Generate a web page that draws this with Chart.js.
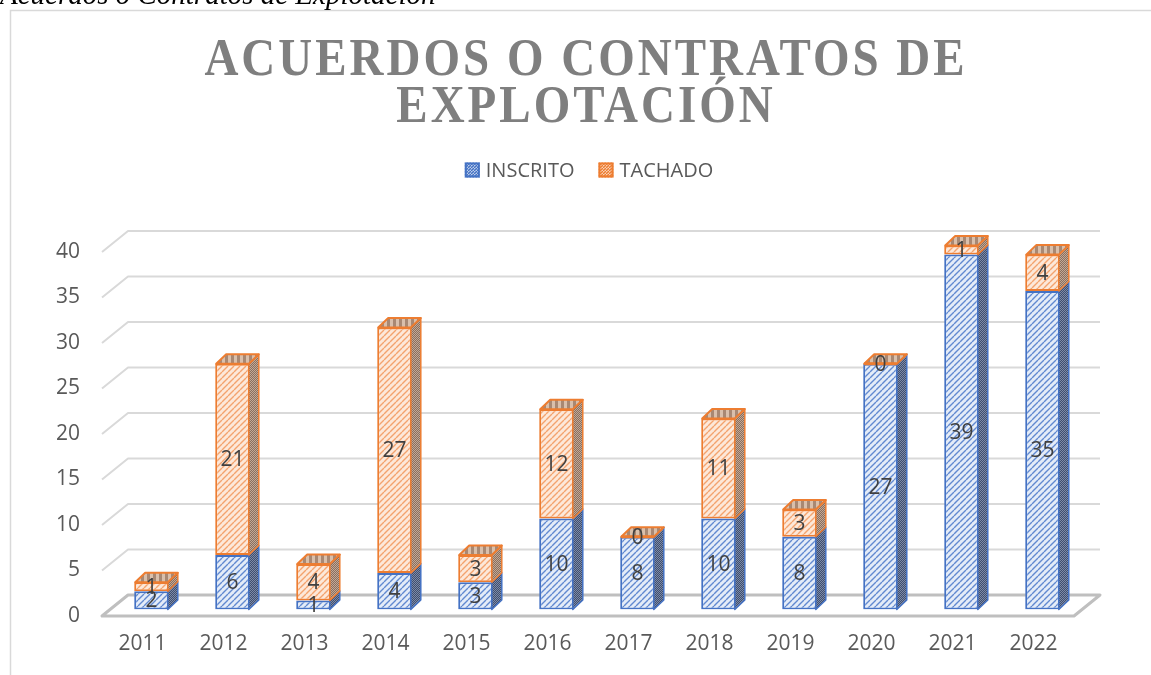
<!DOCTYPE html>
<html><head><meta charset="utf-8">
<script src="https://cdn.jsdelivr.net/npm/chart.js@4.4.1/dist/chart.umd.min.js"></script>
<style>
html,body{margin:0;padding:0;background:#fff;overflow:hidden;width:1151px;height:675px;}
#c{position:absolute;left:0;top:0;}
#cap{position:absolute;left:0;top:-21px;font:italic 29px "Liberation Serif",serif;color:#000;white-space:nowrap;line-height:30px;}
</style></head><body>
<canvas id="c" width="1180" height="675"></canvas>
<div id="cap">Acuerdos o Contratos de Explotación</div>
<script>
// ---- data ----
const categories = ['2011','2012','2013','2014','2015','2016','2017','2018','2019','2020','2021','2022'];
const inscrito = [2, 6, 1, 4, 3, 10, 8, 10, 8, 27, 39, 35];
const tachado  = [1, 21, 4, 27, 3, 12, 0, 11, 3, 0, 1, 4];
const seriesNames = ['INSCRITO', 'TACHADO'];
const yTicks = [0, 5, 10, 15, 20, 25, 30, 35, 40];
const titleLines = ['ACUERDOS O CONTRATOS DE', 'EXPLOTACIÓN'];

const cv = document.getElementById('c');
const ctx = cv.getContext('2d');

function stripePat(bg, fg, size, lw){
  const c=document.createElement('canvas'); c.width=c.height=size; const g=c.getContext('2d');
  g.fillStyle=bg; g.fillRect(0,0,size,size);
  g.strokeStyle=fg; g.lineWidth=lw; g.beginPath();
  for(let k=-1;k<=1;k++){ g.moveTo(k*size, size); g.lineTo(k*size+size, 0); }
  g.stroke();
  return ctx.createPattern(c,'repeat');
}
function checkPat(a,b){
  const c=document.createElement('canvas'); c.width=c.height=2; const g=c.getContext('2d');
  g.fillStyle=a; g.fillRect(0,0,2,2); g.fillStyle=b; g.fillRect(0,0,1,1); g.fillRect(1,1,1,1);
  return ctx.createPattern(c,'repeat');
}
function vstripePat(bg, fg, period, w){
  const c=document.createElement('canvas'); c.width=period; c.height=1; const g=c.getContext('2d');
  g.fillStyle=bg; g.fillRect(0,0,period,1); g.fillStyle=fg; g.fillRect(0,0,w,1);
  return ctx.createPattern(c,'repeat');
}

const styles = [
  {border:'#4472c4', front:stripePat('#e4ecf8','#6189d0',6,1.4), side:checkPat('#3f4f70','#7d8aa6'), top:vstripePat('#7f93bb','#b8c6e2',6,3), legend:stripePat('#ffffff','#4472c4',3,1.6)},
  {border:'#ed7d31', front:stripePat('#fde8d9','#f3a36e',6,1.4), side:checkPat('#8a6f5e','#c2a896'), top:vstripePat('#a88873','#d9bfab',6,3), legend:stripePat('#ffffff','#ed7d31',3,1.6)}
];

const FRONT={dx:-9,dy:6.5}, BACK={dx:17,dy:-14.5}, DEPTH={dx:10,dy:-9.5};
const TXT = '"Open Sans", "Noto Sans", sans-serif';

const threeD = {
  id:'threeD',
  beforeDraw(chart){
    const c=chart.ctx; c.save();
    c.strokeStyle='#d9d9d9'; c.lineWidth=1.5;
    c.beginPath(); c.moveTo(10.5,700); c.lineTo(10.5,10.5); c.lineTo(1200,10.5); c.stroke();
    // title
    c.fillStyle='#7f7f7f'; c.font='bold 47px "Liberation Serif", serif';
    c.letterSpacing='3px'; c.textAlign='center'; c.textBaseline='alphabetic';
    [[titleLines[0],75],[titleLines[1],122]].forEach(([t,by])=>{
      c.save(); c.translate(586,by); c.scale(1,1.12); c.fillText(t,0,0); c.restore();
    });
    c.letterSpacing='0px';
    // legend
    c.font='20px '+TXT; c.textBaseline='middle'; c.textAlign='left';
    const box=15, gap=6, itemGap=24, ly=170;
    const widths=seriesNames.map(s=>c.measureText(s).width);
    let total=0; widths.forEach((w,i)=>{ total+=box+gap+w+(i?itemGap:0); });
    let x=589-total/2;
    seriesNames.forEach((s,i)=>{
      const st=styles[i];
      c.fillStyle=st.legend; c.fillRect(x,ly-box/2,box,box);
      c.strokeStyle=st.border; c.lineWidth=2; c.strokeRect(x+1,ly-box/2+1,box-2,box-2);
      c.fillStyle='#595959'; c.fillText(s, x+box+gap, ly+1);
      x+=box+gap+widths[i]+itemGap;
    });
    c.restore();
  },
  beforeDatasetsDraw(chart){
    const c=chart.ctx, {left,right}=chart.chartArea, y=chart.scales.y;
    c.save();
    c.strokeStyle='#d9d9d9'; c.lineWidth=2; c.lineJoin='round';
    y.ticks.forEach(t=>{
      if(t.value===0) return;
      const p=y.getPixelForValue(t.value);
      c.beginPath(); c.moveTo(left+FRONT.dx,p+FRONT.dy); c.lineTo(left+BACK.dx,p+BACK.dy); c.lineTo(right+BACK.dx,p+BACK.dy); c.stroke();
    });
    const p0=y.getPixelForValue(0);
    c.strokeStyle='#bfbfbf'; c.lineWidth=3;
    c.beginPath(); c.moveTo(left+FRONT.dx,p0+FRONT.dy); c.lineTo(right+FRONT.dx,p0+FRONT.dy);
    c.lineTo(right+BACK.dx,p0+BACK.dy); c.lineTo(left+BACK.dx,p0+BACK.dy); c.closePath(); c.stroke();
    c.restore();
  },
  afterDatasetsDraw(chart){
    const c=chart.ctx; c.save(); c.lineJoin='round';
    const n=chart.data.datasets.length;
    chart.data.datasets.forEach((ds,di)=>{
      const meta=chart.getDatasetMeta(di), st=styles[di];
      meta.data.forEach((el,i)=>{
        const p=el.getProps(['x','y','base','width'],true);
        const x2=p.x+p.width/2-1, x1=p.x-p.width/2+1;
        const top=Math.min(p.y,p.base), bot=Math.max(p.y,p.base);
        c.beginPath(); c.moveTo(x2,top); c.lineTo(x2+DEPTH.dx,top+DEPTH.dy); c.lineTo(x2+DEPTH.dx,bot+DEPTH.dy); c.lineTo(x2,bot); c.closePath();
        c.fillStyle=st.side; c.fill(); c.strokeStyle=st.border; c.lineWidth=1.5; c.stroke();
        if(di===n-1){
          c.beginPath(); c.moveTo(x1,top); c.lineTo(x1+DEPTH.dx,top+DEPTH.dy); c.lineTo(x2+DEPTH.dx,top+DEPTH.dy); c.lineTo(x2,top); c.closePath();
          c.fillStyle=st.top; c.fill(); c.strokeStyle=st.border; c.lineWidth=2; c.stroke();
          if(bot-top<1){ c.beginPath(); c.moveTo(x1,top); c.lineTo(x2,top); c.lineWidth=3; c.stroke(); }
        }
      });
    });
    c.font='21px '+TXT; c.fillStyle='#404040'; c.textAlign='center'; c.textBaseline='middle';
    chart.data.datasets.forEach((ds,di)=>{
      chart.getDatasetMeta(di).data.forEach((el,i)=>{
        const p=el.getProps(['x','y','base'],true);
        c.fillText(String(ds.data[i]), p.x, (p.y+p.base)/2+1);
      });
    });
    c.restore();
  }
};

new Chart(ctx, {
  type:'bar',
  data:{
    labels:categories,
    datasets:[
      {label:seriesNames[0], data:inscrito, backgroundColor:styles[0].front, borderColor:styles[0].border, borderWidth:2, borderSkipped:false},
      {label:seriesNames[1], data:tachado, backgroundColor:styles[1].front, borderColor:styles[1].border, borderWidth:2, borderSkipped:false}
    ]
  },
  options:{
    responsive:false, animation:false, devicePixelRatio:1,
    layout:{padding:{top:245.5, right:97, left:0, bottom:0}},
    datasets:{bar:{categoryPercentage:1, barPercentage:0.427}},
    plugins:{legend:{display:false}, title:{display:false}, tooltip:{enabled:false}},
    scales:{
      x:{stacked:true, offset:true, grid:{display:false, drawTicks:false}, border:{display:false},
        ticks:{font:{family:TXT, size:21}, color:'#595959', padding:22, labelOffset:-9, maxRotation:0, autoSkip:false},
        afterFit:(s)=>{ s.height=65.5; }},
      y:{stacked:true, min:0, max:40, grid:{display:false, drawTicks:false}, border:{display:false},
        afterBuildTicks:(s)=>{ s.ticks=yTicks.map(v=>({value:v})); },
        ticks:{font:{family:TXT, size:21}, color:'#595959', padding:31, labelOffset:6.5},
        afterFit:(s)=>{ s.width=111; }}
    }
  },
  plugins:[threeD]
});
</script>
</body></html>
